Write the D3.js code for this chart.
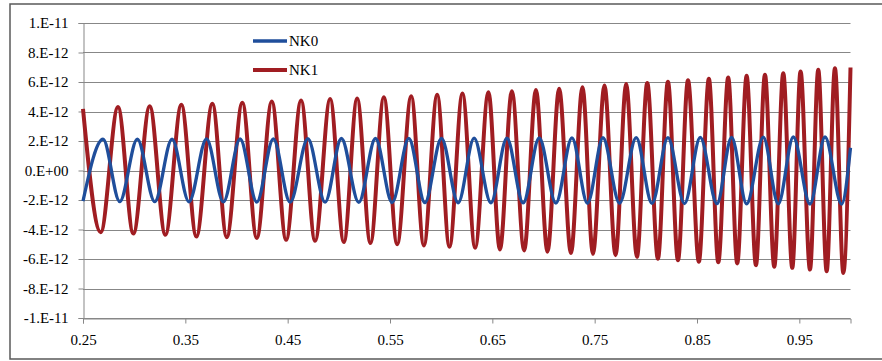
<!DOCTYPE html>
<html>
<head>
<meta charset="utf-8">
<script src="https://cdn.jsdelivr.net/npm/d3@7"></script>
<style>
  html, body { margin: 0; padding: 0; background: #fff; }
  svg { display: block; }
  text { font-family: "Liberation Serif", "Times New Roman", serif; fill: #000; }
</style>
</head>
<body>
<svg id="chart" width="882" height="361"></svg>
<script>
// ---- data (y values in units of 1e-12) ----
const xTickValues = [0.25, 0.35, 0.45, 0.55, 0.65, 0.75, 0.85, 0.95];
const xTickLabels = ["0.25", "0.35", "0.45", "0.55", "0.65", "0.75", "0.85", "0.95"];
const yTickValues = [10, 8, 6, 4, 2, 0, -2, -4, -6, -8, -10];
const yTickLabels = ["1.E-11", "8.E-12", "6.E-12", "4.E-12", "2.E-12", "0.E+00",
                     "-2.E-12", "-4.E-12", "-6.E-12", "-8.E-12", "-1.E-11"];
const seriesNames = ["NK0", "NK1"];

// NK0: extrema
const nk0X = [0.25, 0.2696, 0.2859, 0.3031, 0.3201, 0.3370, 0.3536, 0.3707, 0.3872, 0.4035,
              0.4198, 0.4360, 0.4524, 0.4697, 0.4866, 0.5025, 0.5195, 0.5358, 0.5521, 0.5684,
              0.5841, 0.6003, 0.6166, 0.6322, 0.6486, 0.6642, 0.6801, 0.6958, 0.7121, 0.7278,
              0.7430, 0.7581, 0.7743, 0.7906, 0.8060, 0.8216, 0.8378, 0.8532, 0.8695, 0.8838,
              0.8985, 0.9148, 0.9294, 0.9441, 0.9604, 0.9751, 0.9913, 1.0];
const nk0Y = [-2.08, 2.12, -2.10, 2.13, -2.11, 2.13, -2.12, 2.14, -2.13, 2.14,
              -2.14, 2.15, -2.15, 2.16, -2.15, 2.17, -2.16, 2.17, -2.17, 2.18,
              -2.18, 2.18, -2.19, 2.19, -2.19, 2.20, -2.20, 2.21, -2.21, 2.21,
              -2.22, 2.22, -2.22, 2.23, -2.23, 2.23, -2.24, 2.24, -2.25, 2.25,
              -2.26, 2.26, -2.26, 2.27, -2.27, 2.27, -2.28, 1.54];

// NK1: extrema
const nk1X = [0.25, 0.2673, 0.2842, 0.2992, 0.3152, 0.3305, 0.3461, 0.3608, 0.3764, 0.3905,
              0.4057, 0.4198, 0.4345, 0.4485, 0.4631, 0.4768, 0.4915, 0.5049, 0.5179, 0.5309,
              0.5440, 0.5570, 0.5707, 0.5831, 0.5961, 0.6081, 0.6208, 0.6332, 0.6462, 0.6574,
              0.6691, 0.6811, 0.6926, 0.7039, 0.7153, 0.7268, 0.7381, 0.7483, 0.7596, 0.7704,
              0.7808, 0.7913, 0.8014, 0.8118, 0.8216, 0.8314, 0.8412, 0.8518, 0.8616, 0.8708,
              0.8805, 0.8893, 0.8985, 0.9076, 0.9164, 0.9255, 0.9343, 0.9431, 0.9512, 0.9604,
              0.9685, 0.9767, 0.9848, 0.9930, 1.0];
const nk1Y = [4.18, -4.18, 4.30, -4.27, 4.36, -4.36, 4.45, -4.48, 4.52, -4.52,
              4.60, -4.58, 4.68, -4.70, 4.75, -4.77, 4.84, -4.85, 4.88, -4.92,
              4.96, -5.00, 5.04, -5.08, 5.14, -5.17, 5.22, -5.24, 5.31, -5.36,
              5.38, -5.42, 5.45, -5.50, 5.54, -5.60, 5.65, -5.65, 5.76, -5.74,
              5.86, -5.85, 5.94, -5.98, 6.02, -6.08, 6.12, -6.18, 6.22, -6.22,
              6.30, -6.30, 6.42, -6.42, 6.50, -6.52, 6.60, -6.60, 6.72, -6.72,
              6.83, -6.83, 6.94, -6.95, 6.98];

const colors = ["#1f4e9b", "#a01d22"];

// ---- drawing ----
const svg = d3.select("#chart");
const plotLeft = 83, plotRight = 850.5, plotTop = 23, plotBottom = 318;

const x = d3.scaleLinear().domain([0.25, 1.0]).range([plotLeft, plotRight]);
const y = d3.scaleLinear().domain([-10, 10]).range([plotBottom, plotTop]);

// outer frame
svg.append("rect")
  .attr("x", 10).attr("y", 4).attr("width", 900).attr("height", 355)
  .attr("fill", "none").attr("stroke", "#595959").attr("stroke-width", 1.5);

// horizontal gridlines
svg.append("g").selectAll("line").data(yTickValues).join("line")
  .attr("x1", plotLeft).attr("x2", plotRight)
  .attr("y1", d => Math.round(y(d)) + 0.5).attr("y2", d => Math.round(y(d)) + 0.5)
  .attr("stroke", "#878787").attr("stroke-width", 1);

// y axis
const yAxis = d3.axisLeft(y).tickValues(yTickValues)
  .tickFormat((d, i) => yTickLabels[i]).tickSize(5).tickPadding(10);
const gy = svg.append("g").attr("transform", `translate(${plotLeft + 0.5},0)`).call(yAxis);
gy.select(".domain").attr("stroke", "#878787");
gy.selectAll(".tick line").attr("stroke", "#878787");
gy.selectAll("text").attr("font-size", 15).attr("fill", "#000");

// x axis
const xAxis = d3.axisBottom(x).tickValues(xTickValues)
  .tickFormat((d, i) => xTickLabels[i]).tickSize(5).tickPadding(11);
const gx = svg.append("g").attr("transform", `translate(0,${plotBottom + 0.5})`).call(xAxis);
gx.select(".domain").attr("stroke", "#878787");
gx.selectAll(".tick line").attr("stroke", "#878787");
gx.selectAll("text").attr("font-size", 15).attr("fill", "#000");

// series
const line = d3.line().x(d => x(d[0])).y(d => y(d[1])).curve(d3.curveMonotoneX);
const nk0 = nk0X.map((v, i) => [v, nk0Y[i]]);
const nk1 = nk1X.map((v, i) => [v, nk1Y[i]]);

svg.append("path").datum(nk1).attr("d", line)
  .attr("fill", "none").attr("stroke", colors[1]).attr("stroke-width", 4)
  .attr("stroke-linejoin", "round");
svg.append("path").datum(nk0).attr("d", line)
  .attr("fill", "none").attr("stroke", colors[0]).attr("stroke-width", 3.3)
  .attr("stroke-linejoin", "round");

// legend
const legendY = [41, 70];
const lg = svg.append("g");
seriesNames.forEach((name, i) => {
  lg.append("line")
    .attr("x1", 253).attr("x2", 287).attr("y1", legendY[i]).attr("y2", legendY[i])
    .attr("stroke", colors[i]).attr("stroke-width", i === 1 ? 4 : 3.3);
  lg.append("text")
    .attr("x", 289).attr("y", legendY[i] + 5)
    .attr("font-size", 15).text(name);
});
</script>
</body>
</html>
